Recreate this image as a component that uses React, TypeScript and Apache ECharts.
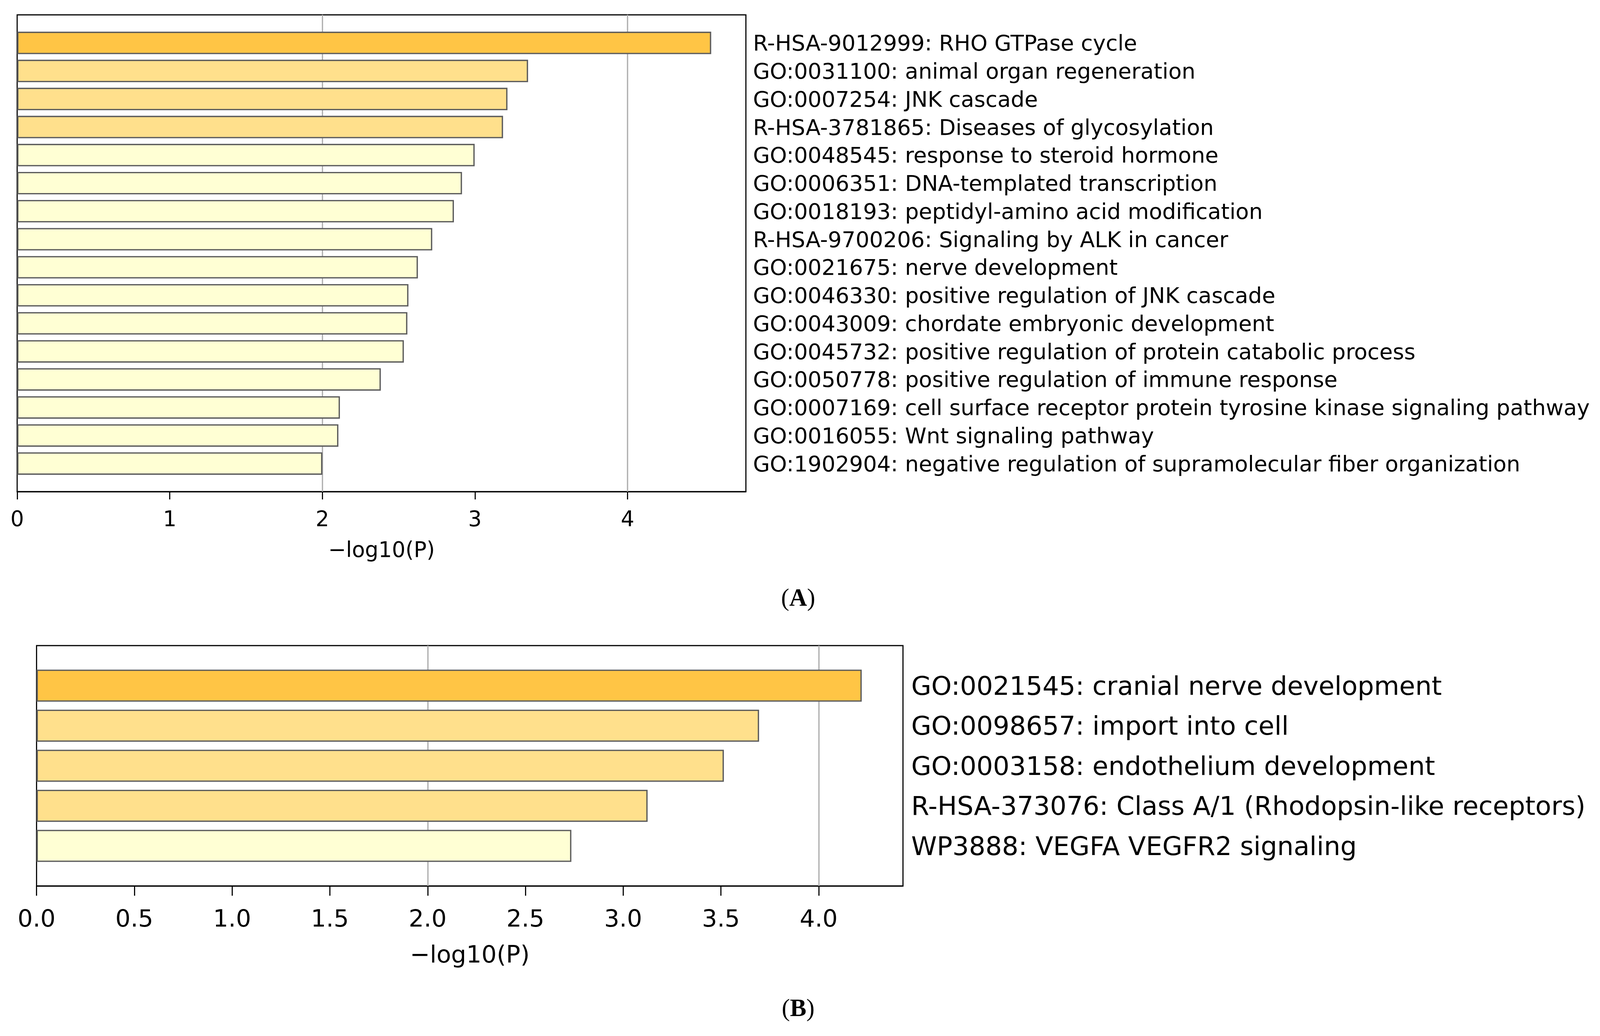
import React, { useEffect, useRef } from "react";
import * as echarts from "echarts";

const termsA = [
  "R-HSA-9012999: RHO GTPase cycle",
  "GO:0031100: animal organ regeneration",
  "GO:0007254: JNK cascade",
  "R-HSA-3781865: Diseases of glycosylation",
  "GO:0048545: response to steroid hormone",
  "GO:0006351: DNA-templated transcription",
  "GO:0018193: peptidyl-amino acid modification",
  "R-HSA-9700206: Signaling by ALK in cancer",
  "GO:0021675: nerve development",
  "GO:0046330: positive regulation of JNK cascade",
  "GO:0043009: chordate embryonic development",
  "GO:0045732: positive regulation of protein catabolic process",
  "GO:0050778: positive regulation of immune response",
  "GO:0007169: cell surface receptor protein tyrosine kinase signaling pathway",
  "GO:0016055: Wnt signaling pathway",
  "GO:1902904: negative regulation of supramolecular fiber organization",
];
const valuesA = [4.548, 3.348, 3.213, 3.184, 2.998, 2.915, 2.862, 2.72, 2.626, 2.564, 2.557, 2.534, 2.383, 2.115, 2.105, 2.0];

const termsB = [
  "GO:0021545: cranial nerve development",
  "GO:0098657: import into cell",
  "GO:0003158: endothelium development",
  "R-HSA-373076: Class A/1 (Rhodopsin-like receptors)",
  "WP3888: VEGFA VEGFR2 signaling",
];
const valuesB = [4.22, 3.695, 3.515, 3.125, 2.735];

const ticksA = [0, 1, 2, 3, 4];
const ticksB = [0, 0.5, 1, 1.5, 2, 2.5, 3, 3.5, 4];
const refLines = [2, 4];
const axisTitle = "\u2212log10(P)";
const captions = ["A", "B"];

const FONT = "DejaVu Sans";
const colorFor = (v: number) => (v >= 4 ? "#FFC545" : v > 3.05 ? "#FFE08C" : "#FFFFD4");

const REF_W = 4288;
const REF_H = 2651;

type PanelOpts = {
  labelSize: number;
  tickSize: number;
  labelMargin: number;
  tickMargin: number;
  tickLength: number;
  nameGap: number;
  decimals: number;
};

function buildPanel(
  idx: number,
  terms: string[],
  values: number[],
  ticks: number[],
  grid: any,
  sc: { sx: number; sy: number; s: number },
  opts: PanelOpts
) {
  const { sx, sy, s } = sc;
  const cats = ["", ...terms, ""];
  const data: any[] = ["-", ...values.map((v) => ({ value: v, itemStyle: { color: colorFor(v) } })), "-"];
  const spacing = grid.height / (cats.length - 1);
  const xMax = Math.max(...values) * 1.05;
  const xAxis = {
    type: "value",
    gridIndex: idx,
    min: 0,
    max: xMax,
    axisLine: { show: true, onZero: false, lineStyle: { color: "#000", width: 3 * s } },
    axisTick: {
      show: true,
      length: opts.tickLength * sy,
      lineStyle: { color: "#000", width: 3 * s },
      customValues: ticks,
    },
    axisLabel: {
      customValues: ticks,
      formatter: (v: number) => v.toFixed(opts.decimals),
      margin: opts.tickMargin * sy,
      fontSize: opts.tickSize * s,
      fontFamily: FONT,
      color: "#000",
    },
    splitLine: { show: false },
    name: axisTitle,
    nameLocation: "middle",
    nameGap: opts.nameGap * sy,
    nameTextStyle: { fontSize: opts.tickSize * s, fontFamily: FONT, color: "#000" },
  };
  const yAxis = {
    type: "category",
    gridIndex: idx,
    data: cats,
    inverse: true,
    boundaryGap: false,
    position: "right",
    axisLine: { show: false, onZero: false },
    axisTick: { show: false },
    splitLine: { show: false },
    axisLabel: {
      interval: 0,
      margin: opts.labelMargin * sx,
      fontSize: opts.labelSize * s,
      fontFamily: FONT,
      color: "#000",
      align: "left",
    },
  };
  const series = {
    type: "bar",
    xAxisIndex: idx,
    yAxisIndex: idx,
    data,
    barWidth: spacing * 0.8,
    z: 2,
    itemStyle: { borderColor: "#5c5c5c", borderWidth: 3.5 * s },
    markLine: {
      silent: true,
      z: 1,
      symbol: "none",
      label: { show: false },
      lineStyle: { color: "#b0b0b0", type: "solid", width: 3.5 * s },
      data: refLines.map((x) => ({ xAxis: x })),
    },
  };
  return { xAxis, yAxis, series };
}

export default function App() {
  const ref = useRef<HTMLDivElement>(null);
  useEffect(() => {
    const el = ref.current;
    if (!el) return;
    const W = el.clientWidth || REF_W;
    const H = el.clientHeight || REF_H;
    const sx = W / REF_W;
    const sy = H / REF_H;
    const s = Math.min(sx, sy);
    const sc = { sx, sy, s };
    const gridA = { left: 46 * sx, top: 38 * sy, width: 1953 * sx, height: 1220 * sy };
    const gridB = { left: 98 * sx, top: 1652 * sy, width: 2322 * sx, height: 615 * sy };
    const chart = echarts.init(el, null, { renderer: "svg", width: W, height: H });
    const a = buildPanel(0, termsA, valuesA, ticksA, gridA, sc, {
      labelSize: 58.3, tickSize: 57, labelMargin: 19, tickMargin: 42, tickLength: 20, nameGap: 121, decimals: 0,
    });
    const b = buildPanel(1, termsB, valuesB, ticksB, gridB, sc, {
      labelSize: 69.5, tickSize: 64, labelMargin: 22, tickMargin: 52, tickLength: 25, nameGap: 144, decimals: 1,
    });
    const rich = {
      n: { fontFamily: "Liberation Serif", fontSize: 66 * s, color: "#000" },
      b: { fontFamily: "Liberation Serif", fontSize: 66 * s, fontWeight: "bold", color: "#000" },
    };
    chart.setOption({
      animation: false,
      backgroundColor: "#fff",
      textStyle: { fontFamily: FONT },
      grid: [
        { ...gridA, show: true, borderColor: "#000", borderWidth: 3 * s, backgroundColor: "transparent" },
        { ...gridB, show: true, borderColor: "#000", borderWidth: 3 * s, backgroundColor: "transparent" },
      ],
      xAxis: [a.xAxis, b.xAxis],
      yAxis: [a.yAxis, b.yAxis],
      series: [a.series, b.series],
      graphic: [
        {
          type: "text",
          x: 2139 * sx,
          y: 1529 * sy,
          style: { text: `{n|(}{b|${captions[0]}}{n|)}`, rich, align: "center", verticalAlign: "middle" },
        },
        {
          type: "text",
          x: 2139 * sx,
          y: 2579 * sy,
          style: { text: `{n|(}{b|${captions[1]}}{n|)}`, rich, align: "center", verticalAlign: "middle" },
        },
      ],
    });
    return () => chart.dispose();
  }, []);
  return (
    <div
      ref={ref}
      style={{ position: "fixed", left: 0, top: 0, width: "100vw", height: "100vh", overflow: "hidden" }}
    />
  );
}
